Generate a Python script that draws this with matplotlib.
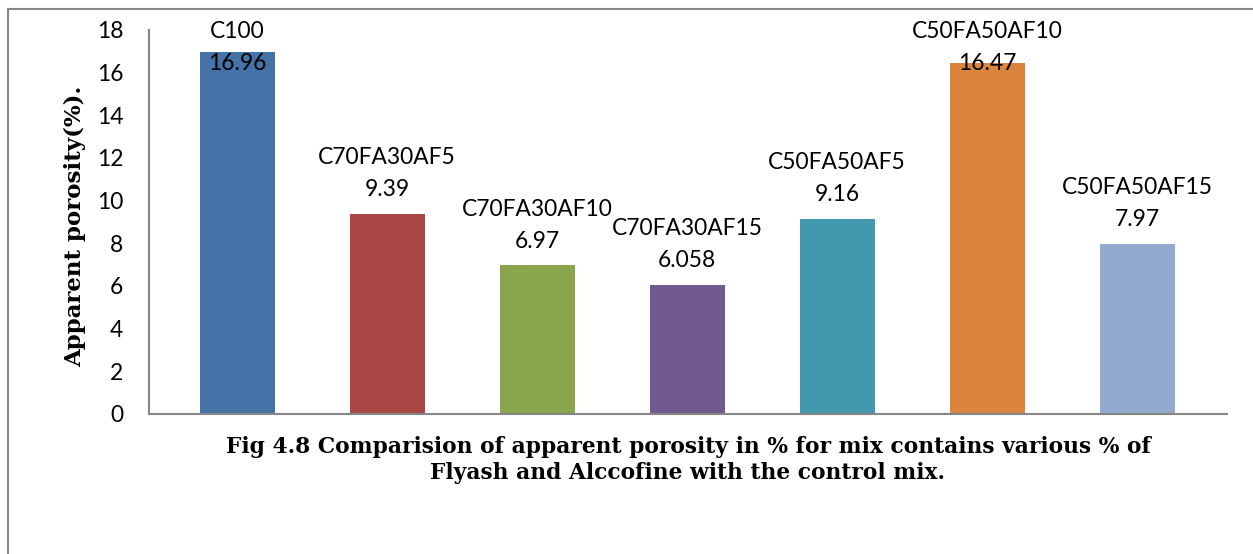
import matplotlib
matplotlib.use("Agg")
import matplotlib.pyplot as plt
from matplotlib.lines import Line2D

mixes = ["C100", "C70FA30AF5", "C70FA30AF10", "C70FA30AF15",
         "C50FA50AF5", "C50FA50AF10", "C50FA50AF15"]
porosity = [16.96, 9.39, 6.97, 6.058, 9.16, 16.47, 7.97]
colors = ["#4572A7", "#AA4643", "#89A54E", "#71588F",
          "#4198AF", "#DB843D", "#93A9CF"]
yticks = list(range(0, 19, 2))

caption = ("Fig 4.8 Comparision of apparent porosity in % for mix contains various % of\n"
           "Flyash and Alccofine with the control mix.")

label_font = "Lato"
serif_font = "DejaVu Serif"

fig = plt.figure(figsize=(12.53, 5.54), dpi=100)
ax = fig.add_axes([149 / 1253, 1 - 414 / 554, (1227 - 149) / 1253, (414 - 30) / 554])

x = list(range(len(mixes)))
ax.bar(x, porosity, width=0.5, color=colors, zorder=2)

ax.set_xlim(-0.587, 6.6)
ax.set_ylim(0, 18)
ax.set_yticks(yticks)
ax.set_xticks([])
ax.tick_params(axis="y", length=0, pad=18.5, labelsize=16.4)
for lbl in ax.get_yticklabels():
    lbl.set_fontfamily(label_font)

for side in ["top", "right"]:
    ax.spines[side].set_visible(False)
for side in ["left", "bottom"]:
    ax.spines[side].set_color("#868686")
    ax.spines[side].set_linewidth(1.5)

# name + value above each bar, pushed down when it would leave the plot area
px_per_unit = (414 - 30) / 18.0
for xi, name, v in zip(x, mixes, porosity):
    val_y = min(v + 24 / px_per_unit, (414 - 64) / px_per_unit)
    name_y = val_y + 32 / px_per_unit
    ax.text(xi, val_y, f"{v:g}", ha="center", va="center", fontsize=16.4,
            family=label_font, zorder=3)
    ax.text(xi, name_y, name, ha="center", va="center", fontsize=16.4,
            family=label_font, zorder=3)

fig.text(75 / 1253, 1 - 226 / 554, "Apparent porosity(%).", rotation=90,
         ha="center", va="center", fontsize=16.5, fontweight="bold", family=serif_font)

fig.text(688 / 1253, 1 - 460 / 554, caption, ha="center", va="center",
         fontsize=15.7, fontweight="bold", family=serif_font, linespacing=1.25)

# outer frame (left and top edges only)
fig.add_artist(Line2D([8 / 1253, 8 / 1253], [0, 1 - 9 / 554], transform=fig.transFigure,
                      color="#878787", linewidth=1.5))
fig.add_artist(Line2D([8 / 1253, 1], [1 - 9 / 554, 1 - 9 / 554], transform=fig.transFigure,
                      color="#878787", linewidth=1.5))

fig.savefig("out.png", dpi=100)
